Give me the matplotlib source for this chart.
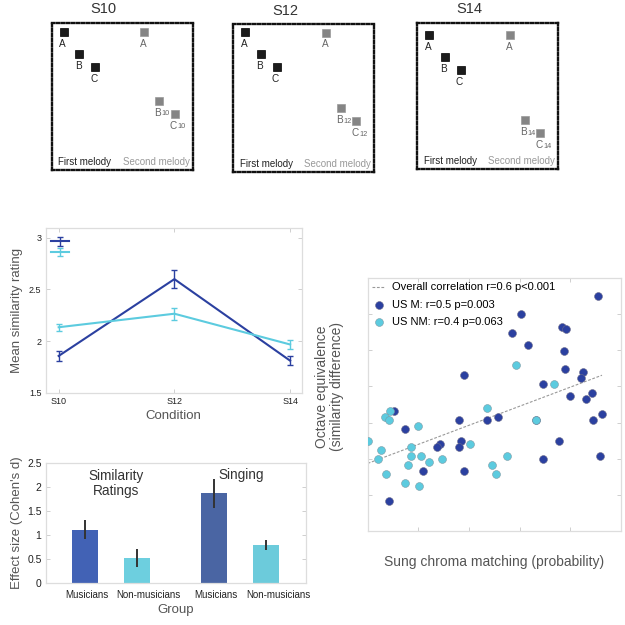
import matplotlib
matplotlib.use('Agg')
import matplotlib.pyplot as plt
import matplotlib.transforms as mtransforms

plt.rcParams['font.family'] = ['Liberation Sans', 'DejaVu Sans']

# ---------------- data ----------------
# top panels (positions of notes inside each panel box, fraction of box)
conditions = ['S10', 'S12', 'S14']
note_names = ['A', 'B', 'C']
first_x = [0.084, 0.194, 0.307]
second_x = [0.656, 0.762, 0.872]
first_y_s10 = [0.939, 0.787, 0.701]
first_y_s12 = [0.946, 0.796, 0.707]
first_y_s14 = [0.916, 0.764, 0.676]
second_y_s10 = [0.934, 0.469, 0.383]
second_y_s12 = [0.944, 0.429, 0.342]
second_y_s14 = [0.914, 0.333, 0.247]
subscripts = ['10', '12', '14']

# line chart
cond_x = [0, 1, 2]
cond_labels = ['S10', 'S12', 'S14']
mus_mean = [1.856, 2.60, 1.81]
mus_err = [0.05, 0.085, 0.045]
nonmus_mean = [2.134, 2.265, 1.967]
nonmus_err = [0.035, 0.06, 0.04]

# bar chart
bar_pos = [1, 2, 3.5, 4.5]
bar_labels = ['Musicians', 'Non-musicians', 'Musicians', 'Non-musicians']
bar_vals = [1.11, 0.524, 1.87, 0.789]
bar_err = [0.2, 0.19, 0.3, 0.105]
bar_colors = ['#4262b5', '#6dcfdf', '#4a65a3', '#6ccbdb']

# scatter
usm_x = [0.911, 0.605, 0.571, 0.632, 0.766, 0.783, 0.774, 0.779, 0.850, 0.841,
         0.382, 0.693, 0.799, 0.886, 0.861, 0.925, 0.889, 0.104, 0.149, 0.359,
         0.470, 0.516, 0.664, 0.755, 0.287, 0.275, 0.368, 0.359, 0.693, 0.917,
         0.218, 0.379, 0.083]
usm_y = [6.49, 6.00, 5.49, 5.16, 5.65, 5.58, 4.99, 4.48, 4.41, 4.23,
         4.33, 4.07, 3.74, 3.82, 3.66, 3.24, 3.07, 3.32, 2.82, 3.07,
         3.07, 3.15, 3.07, 2.49, 2.41, 2.32, 2.49, 2.32, 1.99, 2.08,
         1.66, 1.66, 0.83]
usnm_x = [0.586, 0.734, 0.470, 0.088, 0.068, 0.086, 0.197, 0.664, 0.000, 0.054,
          0.041, 0.170, 0.170, 0.211, 0.242, 0.293, 0.404, 0.551, 0.489, 0.507,
          0.158, 0.071, 0.149, 0.201]
usnm_y = [4.58, 4.07, 3.40, 3.32, 3.15, 3.07, 2.91, 3.07, 2.49, 2.24,
          1.99, 2.32, 2.08, 2.08, 1.91, 1.99, 2.41, 2.08, 1.83, 1.58,
          1.83, 1.58, 1.33, 1.25]
trend_x = [0.0, 0.925]
trend_y = [1.87, 4.31]

DARK = '#2b40a0'
CYAN = '#5ccbdf'
GRID = '#dddddd'
LABEL = '#555555'

fig = plt.figure(figsize=(6.25, 6.25), dpi=100)
W = H = 625.0


def fax(left, top, right, bottom):
    return fig.add_axes([left / W, 1 - bottom / H, (right - left) / W, (bottom - top) / H])


def matlab_box(ax, labelsize):
    for s in ax.spines.values():
        s.set_color(GRID)
        s.set_linewidth(0.9)
    ax.tick_params(direction='in', length=3, width=0.7, color='#cfcfcf',
                   top=True, right=True, labelsize=labelsize, labelcolor='#222222', pad=3)


# ---------------- top panels ----------------
boxes = [(51.7, 22.7, 192.7, 170.0), (233.3, 24.3, 374.3, 171.7), (417.3, 22.7, 558.3, 169.3)]
first_ys = [first_y_s10, first_y_s12, first_y_s14]
second_ys = [second_y_s10, second_y_s12, second_y_s14]
for i, cond in enumerate(conditions):
    ax = fax(*boxes[i])
    ax.set_xlim(0, 1)
    ax.set_ylim(0, 1)
    ax.set_xticks([])
    ax.set_yticks([])
    for s in ax.spines.values():
        s.set_linestyle((0, (1, 1.1)))
        s.set_linewidth(1.7)
        s.set_color('#111111')
    ax.plot(first_x, first_ys[i], 's', color='#1c1c1c', markersize=6.2,
            markeredgecolor='#000000', markeredgewidth=0.5)
    ax.plot(second_x, second_ys[i], 's', color='#858585', markersize=6.2,
            markeredgecolor='#9a9a9a', markeredgewidth=0.5)
    for j, nm in enumerate(note_names):
        ax.annotate(nm, (first_x[j], first_ys[i][j]), xytext=(-0.7, -8.6),
                    textcoords='offset points', ha='center', va='center',
                    fontsize=7.2, color='#222222')
        if j == 0:
            ax.annotate(nm, (second_x[j], second_ys[i][j]), xytext=(-0.7, -8.6),
                        textcoords='offset points', ha='center', va='center',
                        fontsize=7.2, color='#666666')
        else:
            ax.annotate(nm, (second_x[j], second_ys[i][j]), xytext=(1.6, -8.6),
                        textcoords='offset points', ha='right', va='center',
                        fontsize=7.2, color='#666666')
            ax.annotate(subscripts[i], (second_x[j], second_ys[i][j]), xytext=(2.0, -9.3),
                        textcoords='offset points', ha='left', va='center',
                        fontsize=5.3, color='#666666')
    ax.text(0.047, 0.054, 'First melody', transform=ax.transAxes, fontsize=7,
            color='#222222', ha='left', va='center')
    ax.text(0.503, 0.054, 'Second melody', transform=ax.transAxes, fontsize=7,
            color='#999999', ha='left', va='center')
    ax.text(0.37, 1 + 13.5 / 147, cond, transform=ax.transAxes, fontsize=10.5,
            color='#333333', ha='center', va='center')

# ---------------- line chart ----------------
ax1 = fax(45.7, 227.5, 301.7, 392.7)
e1 = ax1.errorbar(cond_x, mus_mean, yerr=mus_err, color=DARK, lw=1.5,
                  capsize=2.2, elinewidth=1.0, capthick=1.0)
e2 = ax1.errorbar(cond_x, nonmus_mean, yerr=nonmus_err, color=CYAN, lw=1.5,
                  capsize=2.2, elinewidth=1.0, capthick=1.0)
ax1.set_xlim(-0.112, 2.10)
ax1.set_ylim(1.5, 3.1)
ax1.set_yticks([1.5, 2, 2.5, 3])
ax1.set_yticklabels(['1.5', '2', '2.5', '3'])
ax1.set_xticks(cond_x)
ax1.set_xticklabels(cond_labels)
matlab_box(ax1, 6.5)
ax1.set_ylabel('Mean similarity rating', fontsize=9.5, color=LABEL, labelpad=4)
ax1.set_xlabel('Condition', fontsize=9.5, color=LABEL, labelpad=3)
ax1.legend([e1, e2], ['', ''], loc='upper left', bbox_to_anchor=(0.0195, 0.933),
           frameon=False, handlelength=2.23, handletextpad=0, borderpad=0,
           labelspacing=0.3, borderaxespad=0, fontsize=6)

# ---------------- bar chart ----------------
ax2 = fax(45.7, 463.3, 305.7, 582.7)
ax2.bar(bar_pos, bar_vals, width=0.5, color=bar_colors, yerr=bar_err,
        error_kw=dict(ecolor='#333333', elinewidth=1.4, capsize=0))
ax2.set_xlim(0.24, 5.27)
ax2.set_ylim(0, 2.5)
ax2.set_yticks([0, 0.5, 1, 1.5, 2, 2.5])
ax2.set_yticklabels(['0', '0.5', '1', '1.5', '2', '2.5'])
ax2.set_xticks(bar_pos)
ax2.set_xticklabels(bar_labels)
matlab_box(ax2, 7.5)
ax2.tick_params(axis='x', length=0, labelsize=7, pad=5)
shift = mtransforms.ScaledTranslation(-20 / 100.0, 0, fig.dpi_scale_trans)
for lab in ax2.get_xticklabels():
    lab.set_horizontalalignment('left')
    lab.set_transform(lab.get_transform() + shift)
ax2.set_ylabel("Effect size (Cohen's d)", fontsize=9.5, color=LABEL, labelpad=3)
ax2.set_xlabel('Group', fontsize=9.5, color=LABEL, labelpad=3)
ax2.text(1.6, 2.08, 'Similarity\nRatings', ha='center', va='center', fontsize=9.8,
         color='#333333', linespacing=1.05)
ax2.text(4.03, 2.255, 'Singing', ha='center', va='center', fontsize=9.8, color='#333333')

# ---------------- scatter ----------------
ax3 = fax(367.7, 278.0, 621.0, 531.0)
ax3.plot(trend_x, trend_y, linestyle=(0, (2.5, 1.5)), color='#999999', lw=0.8,
         label='Overall correlation r=0.6 p<0.001')
ax3.scatter(usm_x, usm_y, s=32, color=DARK, edgecolors='#6a6a8a', linewidths=0.4,
            label='US M: r=0.5 p=0.003', zorder=3)
ax3.scatter(usnm_x, usnm_y, s=32, color=CYAN, edgecolors='#7a9aa5', linewidths=0.4,
            label='US NM: r=0.4 p=0.063', zorder=3)
ax3.set_xlim(0, 1)
ax3.set_ylim(0, 7)
ax3.set_xticks([0, 0.2, 0.4, 0.6, 0.8, 1.0])
ax3.set_yticks(range(8))
matlab_box(ax3, 7)
ax3.tick_params(labelleft=False, labelbottom=False)
ax3.set_xlabel('Sung chroma matching (probability)', fontsize=10, color=LABEL, labelpad=17)
ax3.set_ylabel('Octave equivalence\n(similarity difference)', fontsize=10, color=LABEL,
               linespacing=1.05)
ax3.yaxis.set_label_coords(-0.095, 0.57)
ax3.legend(loc='upper left', frameon=False, fontsize=8, handlelength=1.2,
           handletextpad=0.6, borderpad=0.1, labelspacing=0.65, borderaxespad=0.3,
           markerscale=1.0)

fig.savefig('out.png', dpi=100)
